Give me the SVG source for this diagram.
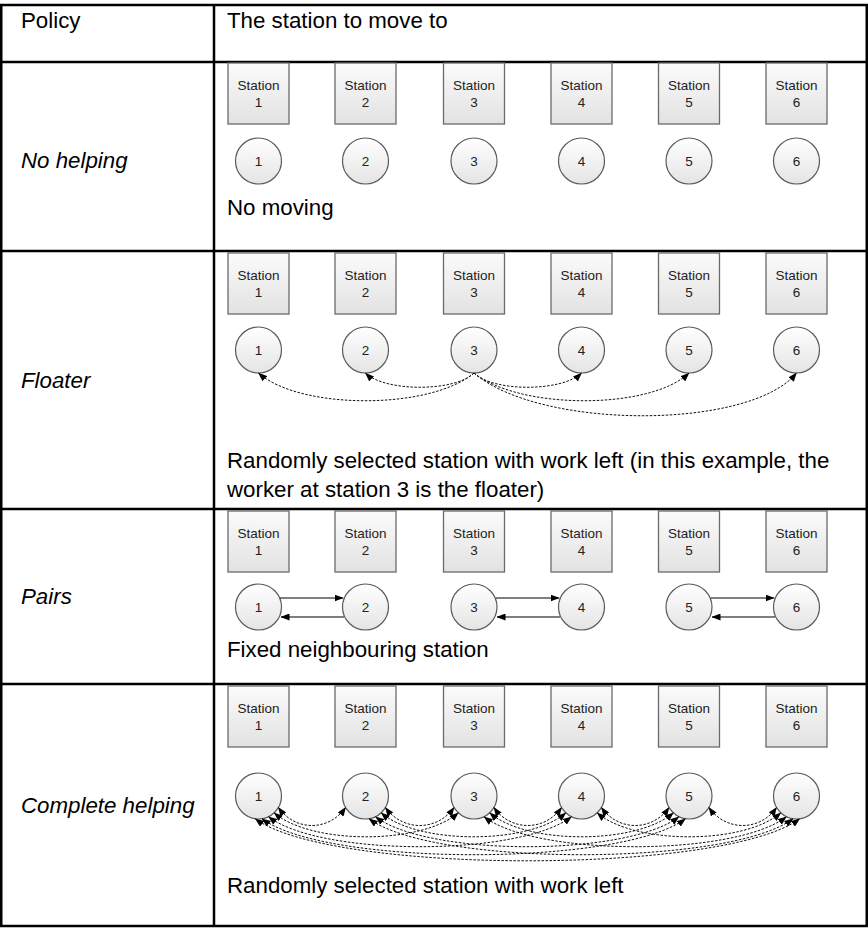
<svg xmlns="http://www.w3.org/2000/svg" width="868" height="931" viewBox="0 0 868 931">
  <defs>
    <linearGradient id="boxFill" x1="0" y1="0" x2="0" y2="1">
      <stop offset="0" stop-color="#fbfbfb"/>
      <stop offset="1" stop-color="#e2e2e2"/>
    </linearGradient>
    <linearGradient id="circFill" x1="0" y1="0" x2="0" y2="1">
      <stop offset="0" stop-color="#ffffff"/>
      <stop offset="1" stop-color="#e4e4e4"/>
    </linearGradient>
    <marker id="head" markerUnits="userSpaceOnUse" markerWidth="9" markerHeight="7" refX="8.5" refY="3.5" orient="auto-start-reverse">
      <path d="M0,0 L9,3.5 L0,7 z" fill="#000"/>
    </marker>
    <g id="stations">
      <g class="stn"><rect x="228" y="0" width="61" height="61"/><text x="258.5" y="26.5">Station</text><text x="258.5" y="43.5">1</text></g>
      <g class="stn"><rect x="335" y="0" width="61" height="61"/><text x="365.5" y="26.5">Station</text><text x="365.5" y="43.5">2</text></g>
      <g class="stn"><rect x="443.5" y="0" width="61" height="61"/><text x="474" y="26.5">Station</text><text x="474" y="43.5">3</text></g>
      <g class="stn"><rect x="551" y="0" width="61" height="61"/><text x="581.5" y="26.5">Station</text><text x="581.5" y="43.5">4</text></g>
      <g class="stn"><rect x="658.5" y="0" width="61" height="61"/><text x="689" y="26.5">Station</text><text x="689" y="43.5">5</text></g>
      <g class="stn"><rect x="766" y="0" width="61" height="61"/><text x="796.5" y="26.5">Station</text><text x="796.5" y="43.5">6</text></g>
    </g>
    <g id="workers">
      <g class="wk"><circle cx="258.5" cy="0" r="23"/><text x="258.5" y="5">1</text></g>
      <g class="wk"><circle cx="365.5" cy="0" r="23"/><text x="365.5" y="5">2</text></g>
      <g class="wk"><circle cx="474" cy="0" r="23"/><text x="474" y="5">3</text></g>
      <g class="wk"><circle cx="581.5" cy="0" r="23"/><text x="581.5" y="5">4</text></g>
      <g class="wk"><circle cx="689" cy="0" r="23"/><text x="689" y="5">5</text></g>
      <g class="wk"><circle cx="796.5" cy="0" r="23"/><text x="796.5" y="5">6</text></g>
    </g>
  </defs>
  <style>
    text { font-family: "Liberation Sans", Arial, sans-serif; fill: #000; }
    .cell { font-size: 22.3px; }
    .pol { font-size: 22.3px; font-style: italic; }
    .stn rect { fill: url(#boxFill); stroke: #6a6a6a; stroke-width: 1.3; }
    .stn text { font-size: 13.5px; text-anchor: middle; fill: #222; }
    .wk circle { fill: url(#circFill); stroke: #5a5a5a; stroke-width: 1.2; }
    .wk text { font-size: 13.5px; text-anchor: middle; fill: #222; }
    .grid { fill: none; stroke: #000; stroke-width: 2.5; }
    .dash { fill: none; stroke: #111; stroke-width: 1; stroke-dasharray: 2.5 1.5; }
    .solid { fill: none; stroke: #000; stroke-width: 1.1; }
  </style>

  <!-- table frame -->
  <g id="table">
    <rect class="grid" x="1.25" y="5" width="865.5" height="921"/>
    <line class="grid" x1="214" y1="5" x2="214" y2="926"/>
    <line class="grid" x1="1.25" y1="62" x2="866.75" y2="62"/>
    <line class="grid" x1="1.25" y1="251" x2="866.75" y2="251"/>
    <line class="grid" x1="1.25" y1="509" x2="866.75" y2="509"/>
    <line class="grid" x1="1.25" y1="684" x2="866.75" y2="684"/>
  </g>

  <!-- header -->
  <g id="header">
    <text class="cell" x="21" y="28">Policy</text>
    <text class="cell" x="227" y="28">The station to move to</text>
  </g>

  <!-- policy: no helping -->
  <g id="no-helping">
    <text class="pol" x="21" y="168">No helping</text>
    <use href="#stations" y="63"/>
    <use href="#workers" y="161"/>
    <text class="cell" x="227" y="215">No moving</text>
  </g>

  <!-- policy: floater -->
  <g id="floater">
    <text class="pol" x="21" y="388">Floater</text>
    <use href="#stations" y="253"/>
    <use href="#workers" y="350"/>
    <text class="cell" x="227" y="468">Randomly selected station with work left (in this example, the</text>
    <text class="cell" x="227" y="497">worker at station 3 is the floater)</text>
  </g>

  <!-- policy: pairs -->
  <g id="pairs">
    <text class="pol" x="21" y="604">Pairs</text>
    <use href="#stations" y="511"/>
    <use href="#workers" y="607"/>
    <text class="cell" x="227" y="657">Fixed neighbouring station</text>
  </g>

  <!-- policy: complete helping -->
  <g id="complete-helping">
    <text class="pol" x="21" y="813">Complete helping</text>
    <use href="#stations" y="686"/>
    <use href="#workers" y="796"/>
    <text class="cell" x="227" y="893">Randomly selected station with work left</text>
  </g>

  <!-- connectors -->
  <g id="connectors">
    <!-- floater: worker 3 to every other station -->
    <path class="dash" marker-end="url(#head)" d="M474,373 C430,410 300,410 258.5,373"/>
    <path class="dash" marker-end="url(#head)" d="M474,373 C455,392 385,392 365.5,373"/>
    <path class="dash" marker-end="url(#head)" d="M474,373 C493,392 562,392 581.5,373"/>
    <path class="dash" marker-end="url(#head)" d="M474,373 C520,410 650,410 689,373"/>
    <path class="dash" marker-end="url(#head)" d="M474,373 C540,430 750,430 796.5,373"/>

    <!-- pairs: fixed neighbours -->
    <path class="solid" marker-end="url(#head)" d="M280,598 H343"/>
    <path class="solid" marker-end="url(#head)" d="M344,617 H281"/>
    <path class="solid" marker-end="url(#head)" d="M496,598 H559"/>
    <path class="solid" marker-end="url(#head)" d="M560,617 H497"/>
    <path class="solid" marker-end="url(#head)" d="M711,598 H774"/>
    <path class="solid" marker-end="url(#head)" d="M775,617 H712"/>

    <!-- complete helping: every pair of stations, both ways -->
    <g marker-start="url(#head)" marker-end="url(#head)">
      <!-- neighbours -->
      <path class="dash" d="M278.4,807.5 C295.2,831.5 328.8,831.5 345.6,807.5"/>
      <path class="dash" d="M385.4,807.5 C402.6,831.5 436.9,831.5 454.1,807.5"/>
      <path class="dash" d="M493.9,807.5 C510.8,831.5 544.7,831.5 561.6,807.5"/>
      <path class="dash" d="M601.4,807.5 C618.3,831.5 652.2,831.5 669.1,807.5"/>
      <path class="dash" d="M708.9,807.5 C725.8,831.5 759.7,831.5 776.6,807.5"/>
      <!-- two apart -->
      <path class="dash" d="M274.2,812.8 C311,844.8 421.5,844.8 458.3,812.8"/>
      <path class="dash" d="M381.2,812.8 C418.1,844.8 528.9,844.8 565.8,812.8"/>
      <path class="dash" d="M489.7,812.8 C526.4,844.8 636.6,844.8 673.3,812.8"/>
      <path class="dash" d="M597.2,812.8 C633.9,844.8 744.1,844.8 780.8,812.8"/>
      <!-- three apart -->
      <path class="dash" d="M268.6,816.7 C320.1,856.7 519.9,856.7 571.4,816.7"/>
      <path class="dash" d="M375.6,816.7 C427.1,856.7 627.4,856.7 678.9,816.7"/>
      <path class="dash" d="M484.1,816.7 C535.5,856.7 734.9,856.7 786.4,816.7"/>
      <!-- four apart -->
      <path class="dash" d="M262.1,818.7 C325.6,866.7 621.9,866.7 685.4,818.7"/>
      <path class="dash" d="M369.1,818.7 C432.6,866.7 729.4,866.7 792.9,818.7"/>
      <!-- five apart -->
      <path class="dash" d="M255.3,818.8 C331.5,874.8 723.5,874.8 799.7,818.8"/>
    </g>
  </g>
</svg>
